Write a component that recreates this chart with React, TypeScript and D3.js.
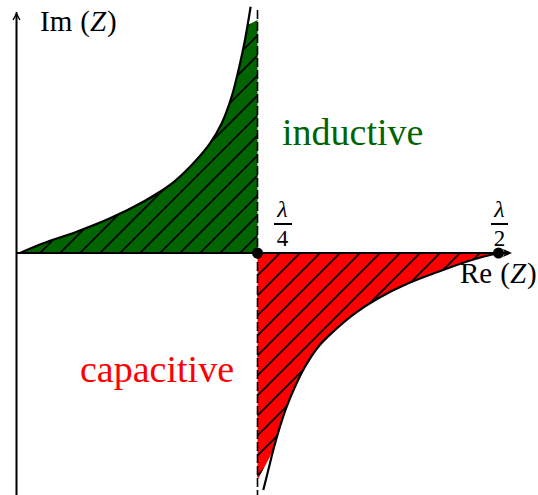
import React from "react";
import * as d3 from "d3";

// line length l (in wavelengths) and the normalised reactance Im(Z)
const leftL = [0.0036, 0.0278, 0.0624, 0.097, 0.1315, 0.1592, 0.18, 0.2007, 0.2129, 0.2232, 0.2311, 0.237, 0.2429];
const leftIm = [0, 0.194, 0.426, 0.694, 1.026, 1.36, 1.726, 2.194, 2.594, 3.126, 3.726, 4.26, 4.926];
const rightL = [0.256, 0.2612, 0.2664, 0.2733, 0.2803, 0.2889, 0.2993, 0.3131, 0.3304, 0.3511, 0.3753, 0.4064, 0.4376, 0.4722, 0.5];
const rightIm = [-4.74, -4.34, -3.94, -3.474, -3.074, -2.674, -2.274, -1.874, -1.54, -1.206, -0.906, -0.606, -0.374, -0.14, 0];

// where the shaded regions stop near the asymptote
const greenCapL = [0.2401, 0.25];
const greenCapIm = [4.56, 4.66];
const redCapL = [0.25, 0.2633];
const redCapIm = [-4.54, -4.06];

const marks = [
  { l: 0.25, num: "λ", den: "4" },
  { l: 0.5, num: "λ", den: "2" },
];

const W = 538, H = 495;
const serif = "'Liberation Serif', 'Times New Roman', serif";

export default function App() {
  const x = d3.scaleLinear().domain([0, 0.5]).range([16.5, 498.5]);
  const y = d3.scaleLinear().domain([-5, 5]).range([503, 3]);

  const left: [number, number][] = leftL.map((l, i) => [x(l), y(leftIm[i])]);
  const right: [number, number][] = rightL.map((l, i) => [x(l), y(rightIm[i])]);
  const smooth = d3.line().curve(d3.curveCatmullRom.alpha(0.5));

  // green: from origin along the curve, then over to the asymptote and down
  const greenCurve = smooth(left.filter((_, i) => leftIm[i] <= 4.3)) as string;
  const greenPath =
    greenCurve +
    greenCapL.map((l, i) => `L${x(l)},${y(greenCapIm[i])}`).join("") +
    `L${x(0.25)},${y(0)}Z`;

  const redCurve = smooth(right.filter((_, i) => rightIm[i] >= -4.0)) as string;
  const redPath =
    `M${x(0.25)},${y(0)}` +
    redCapL.map((l, i) => `L${x(l)},${y(redCapIm[i])}`).join("") +
    "L" + redCurve.slice(1) + "Z";

  const x0 = x(0), y0 = y(0);
  const xa = x(0.25);

  return (
    <svg width={W} height={H} style={{ position: "absolute", left: 0, top: 0 }}>
      <defs>
        <pattern id="hatch" patternUnits="userSpaceOnUse" width={20} height={20} x={13}>
          <path d="M0,20 L20,0 M-5,5 L5,-5 M15,25 L25,15" stroke="#000" strokeWidth={1.7} />
        </pattern>
      </defs>

      <path d={greenPath} fill="#006400" />
      <path d={greenPath} fill="url(#hatch)" />
      <path d={redPath} fill="#ff0000" />
      <path d={redPath} fill="url(#hatch)" />

      {/* asymptote at lambda/4 */}
      <line x1={xa} x2={xa} y1={10} y2={H} stroke="#000" strokeWidth={1.6} strokeDasharray="9 3" />

      {/* axes */}
      <line x1={x0} x2={x0} y1={H} y2={14} stroke="#000" strokeWidth={2} />
      <path d={`M${x0 - 3.5},${20} C${x0 - 1},${16} ${x0},${14} ${x0},${12} C${x0},${14} ${x0 + 1},${16} ${x0 + 3.5},${20}`}
        fill="none" stroke="#000" strokeWidth={1.4} />
      <line x1={x0} x2={506} y1={y0} y2={y0} stroke="#000" strokeWidth={2.2} />
      <path d={`M${512},${y0} L${503},${y0 - 4} L${505},${y0} L${503},${y0 + 4}Z`} fill="#000" />

      {/* curves */}
      <path d={smooth(left) as string} fill="none" stroke="#000" strokeWidth={2.2} />
      <path d={smooth(right) as string} fill="none" stroke="#000" strokeWidth={2.2} />

      {marks.map(m => (
        <g key={m.den}>
          <circle cx={x(m.l)} cy={y0} r={5.5} fill="#000" />
          <text x={x(m.l) + (m.l === 0.25 ? 25 : 1)} y={217} textAnchor="middle" fontFamily={serif} fontStyle="italic" fontSize={24}>{m.num}</text>
          <line x1={x(m.l) + (m.l === 0.25 ? 16.5 : -7.5)} x2={x(m.l) + (m.l === 0.25 ? 34.5 : 9.5)} y1={224} y2={224} stroke="#000" strokeWidth={2} />
          <text x={x(m.l) + (m.l === 0.25 ? 25 : 1)} y={246} textAnchor="middle" fontFamily={serif} fontSize={23}>{m.den}</text>
        </g>
      ))}

      <text x={40} y={31} fontFamily={serif} fontSize={29}>
        Im<tspan dx={8}>(</tspan><tspan fontStyle="italic">Z</tspan><tspan dx={1}>)</tspan>
      </text>
      <text x={460} y={283} fontFamily={serif} fontSize={29}>
        Re<tspan dx={8}>(</tspan><tspan fontStyle="italic">Z</tspan><tspan dx={1}>)</tspan>
      </text>
      <text x={282} y={145} fontFamily={serif} fontSize={38} fill="#006400">inductive</text>
      <text x={80} y={382} fontFamily={serif} fontSize={38} fill="#ff0000">capacitive</text>
    </svg>
  );
}
